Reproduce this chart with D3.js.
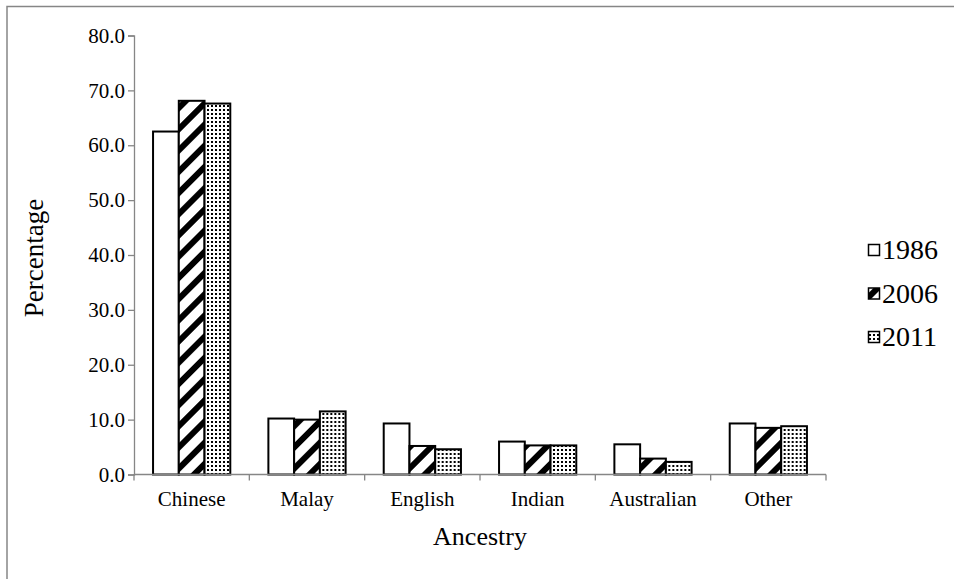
<!DOCTYPE html>
<html>
<head>
<meta charset="utf-8">
<script src="https://cdn.jsdelivr.net/npm/d3@7"></script>
<style>
  html, body { margin: 0; padding: 0; background: #fff; }
  svg { display: block; }
  text { font-family: "Liberation Serif", "Times New Roman", serif; fill: #000; }
</style>
</head>
<body>
<svg id="chart" width="954" height="579"></svg>
<script>
// Ancestry shares (percent) by census year
const categories = ["Chinese", "Malay", "English", "Indian", "Australian", "Other"];
const years = ["1986", "2006", "2011"];
const values1986 = [62.5, 10.2, 9.3, 6.0, 5.5, 9.3];
const values2006 = [68.1, 10.0, 5.2, 5.3, 2.9, 8.5];
const values2011 = [67.6, 11.5, 4.6, 5.3, 2.3, 8.8];
const yTicks = [0, 10, 20, 30, 40, 50, 60, 70, 80];

const seriesByYear = { "1986": values1986, "2006": values2006, "2011": values2011 };
const rows = categories.map((c, i) => ({
  category: c,
  values: years.map(y => ({ year: y, value: seriesByYear[y][i] }))
}));

const svg = d3.select("#chart");
const axisGrey = "#868686";
const serif = "'Liberation Serif', 'Times New Roman', serif";

// Fill patterns: plain, wide upward diagonal, dotted
const defs = svg.append("defs");
const hatch = defs.append("pattern")
  .attr("id", "hatch")
  .attr("patternUnits", "userSpaceOnUse")
  .attr("width", 15).attr("height", 15)
  .attr("patternTransform", "rotate(45)");
hatch.append("rect").attr("width", 15).attr("height", 15).attr("fill", "#fff");
hatch.append("rect").attr("x", 0).attr("width", 6).attr("height", 15).attr("fill", "#000");

const dots = defs.append("pattern")
  .attr("id", "dots")
  .attr("patternUnits", "userSpaceOnUse")
  .attr("width", 4).attr("height", 4);
dots.append("rect").attr("width", 4).attr("height", 4).attr("fill", "#fff");
dots.append("rect").attr("x", 1).attr("y", 1).attr("width", 2).attr("height", 2).attr("fill", "#000");

const fills = { "1986": "#fff", "2006": "url(#hatch)", "2011": "url(#dots)" };

// Outer frame
svg.append("rect")
  .attr("x", 7).attr("y", 6.5)
  .attr("width", 1000).attr("height", 700)
  .attr("fill", "none")
  .attr("stroke", axisGrey)
  .attr("stroke-width", 1.5);

// Scales
const x0 = d3.scaleBand().domain(categories).range([134, 826]).padding(0);
const x1 = d3.scaleBand().domain(years).range([0, x0.bandwidth()])
  .paddingInner(0).paddingOuter(0.74);
const y = d3.scaleLinear().domain([0, 80]).range([474.5, 35.5]);

// Y axis
const yAxis = svg.append("g")
  .attr("transform", "translate(134,0)")
  .call(d3.axisLeft(y).tickValues(yTicks).tickFormat(d3.format(".1f"))
    .tickSize(6).tickPadding(3));
yAxis.attr("font-family", serif);
yAxis.select(".domain").attr("stroke", axisGrey).attr("stroke-width", 1.3);
yAxis.selectAll(".tick line").attr("stroke", axisGrey).attr("stroke-width", 1.3);
yAxis.selectAll(".tick text")
  .attr("font-family", serif)
  .attr("font-size", 21).attr("fill", "#000");

// Bars
const groups = svg.append("g").selectAll("g")
  .data(rows).join("g")
  .attr("transform", d => `translate(${x0(d.category)},0)`);
groups.selectAll("rect")
  .data(d => d.values).join("rect")
  .attr("x", d => x1(d.year))
  .attr("y", d => y(d.value))
  .attr("width", x1.bandwidth())
  .attr("height", d => y(0) - y(d.value))
  .attr("fill", d => fills[d.year])
  .attr("stroke", "#000")
  .attr("stroke-width", 2);

// X axis (category boundaries as ticks)
const xAxis = svg.append("g").attr("transform", `translate(0,${y(0)})`);
xAxis.append("line")
  .attr("x1", 134).attr("x2", 826)
  .attr("stroke", axisGrey).attr("stroke-width", 1.3);
const boundaries = categories.map(c => x0(c)).concat([x0(categories[categories.length - 1]) + x0.bandwidth()]);
xAxis.selectAll("line.tick").data(boundaries).join("line")
  .attr("class", "tick")
  .attr("x1", d => d).attr("x2", d => d)
  .attr("y1", 0).attr("y2", 6)
  .attr("stroke", axisGrey).attr("stroke-width", 1.3);
svg.append("g").selectAll("text").data(categories).join("text")
  .attr("x", d => x0(d) + x0.bandwidth() / 2)
  .attr("y", 506)
  .attr("text-anchor", "middle")
  .attr("font-size", 21)
  .text(d => d);

// Axis titles
svg.append("text")
  .attr("x", 480).attr("y", 545)
  .attr("text-anchor", "middle")
  .attr("font-size", 26)
  .text("Ancestry");
svg.append("text")
  .attr("transform", "translate(43,258) rotate(-90)")
  .attr("text-anchor", "middle")
  .attr("font-size", 27)
  .text("Percentage");

// Legend
const legend = svg.append("g").selectAll("g")
  .data(years).join("g")
  .attr("transform", (d, i) => `translate(868,${250 + i * 43.5})`);
legend.append("rect")
  .attr("x", 0.5).attr("y", -5.5)
  .attr("width", 11).attr("height", 11)
  .attr("fill", d => fills[d])
  .attr("stroke", "#000").attr("stroke-width", 1.5);
legend.append("text")
  .attr("x", 14).attr("y", 9)
  .attr("font-size", 28)
  .text(d => d);
</script>
</body>
</html>
